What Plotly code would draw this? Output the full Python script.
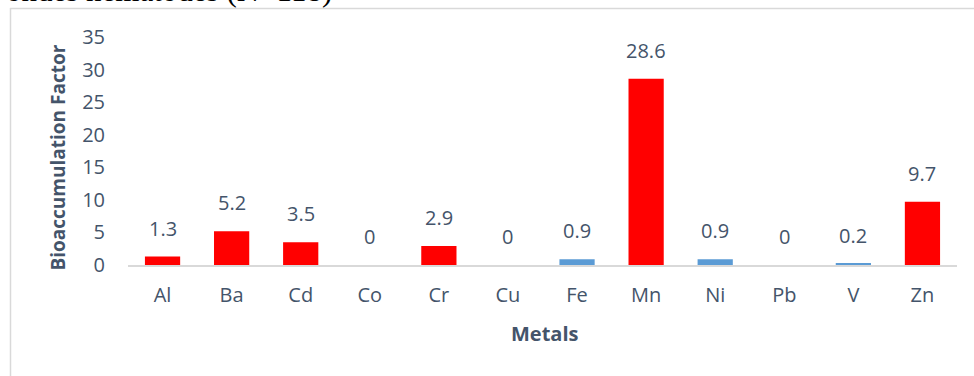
import plotly.graph_objects as go

# Bioaccumulation factor per metal
metals = ["Al", "Ba", "Cd", "Co", "Cr", "Cu", "Fe", "Mn", "Ni", "Pb", "V", "Zn"]
baf = [1.3, 5.2, 3.5, 0, 2.9, 0, 0.9, 28.6, 0.9, 0, 0.2, 9.7]
y_ticks = [0, 5, 10, 15, 20, 25, 30, 35]

RED = "#FF0000"
BLUE = "#5B9BD5"
TEXT = "#44546A"
FRAME = "#D9D9D9"

# factors of 1 or more are highlighted in red
colors = [RED if v >= 1 else BLUE for v in baf]

W, H = 974, 376
L, R, T, B = 128, 17, 37, 111
pw, ph = W - L - R, H - T - B


def px_x(p):
    return (p - L) / pw


def px_y(p):
    return (H - B - p) / ph


fig = go.Figure(
    go.Bar(
        x=metals,
        y=baf,
        marker=dict(color=colors, line=dict(width=0)),
        hoverinfo="x+y",
    )
)

for m, v in zip(metals, baf):
    fig.add_annotation(
        x=m, y=v, text=f"{v:g}", showarrow=False, yanchor="bottom", yshift=13,
        font=dict(family="Open Sans", size=20, color=TEXT),
    )

# caption line above the chart frame
fig.add_annotation(
    xref="paper", yref="paper", x=px_x(334), y=px_y(10.5), xanchor="right", yanchor="bottom",
    text="ondes nematodes (N=118)", showarrow=False,
    font=dict(family="Liberation Serif", size=31, color="#000000"),
)

# axis titles
fig.add_annotation(
    xref="paper", yref="paper", x=px_x(57.5), y=px_y(158), xanchor="center", yanchor="middle",
    text="<b>Bioaccumulation Factor</b>", textangle=-90, showarrow=False,
    font=dict(family="Open Sans", size=19, color=TEXT),
)
fig.add_annotation(
    xref="paper", yref="paper", x=px_x(545), y=px_y(333), xanchor="center", yanchor="middle",
    text="<b>Metals</b>", showarrow=False,
    font=dict(family="Open Sans", size=20, color=TEXT),
)

# chart area frame
fig.add_shape(type="line", xref="paper", yref="paper",
              x0=px_x(10.5), x1=px_x(10.5), y0=px_y(8), y1=px_y(H + 5),
              line=dict(color=FRAME, width=1.5))
fig.add_shape(type="line", xref="paper", yref="paper",
              x0=px_x(10), x1=px_x(W + 5), y0=px_y(8.5), y1=px_y(8.5),
              line=dict(color=FRAME, width=1.5))

fig.update_layout(
    width=W, height=H,
    margin=dict(l=L, r=R, t=T, b=B),
    paper_bgcolor="white", plot_bgcolor="white",
    bargap=0.49,
    showlegend=False,
    font=dict(family="Open Sans", color=TEXT),
)
fig.update_xaxes(
    showgrid=False, showline=True, linecolor=FRAME, linewidth=2,
    ticks="", tickfont=dict(size=20, color=TEXT), ticklabelstandoff=11,
)
fig.update_yaxes(
    range=[0, 35], tickvals=y_ticks, showgrid=False, zeroline=False, showline=False,
    ticks="", tickfont=dict(size=20, color=TEXT), ticklabelstandoff=22,
)

fig.write_html("out.html")
